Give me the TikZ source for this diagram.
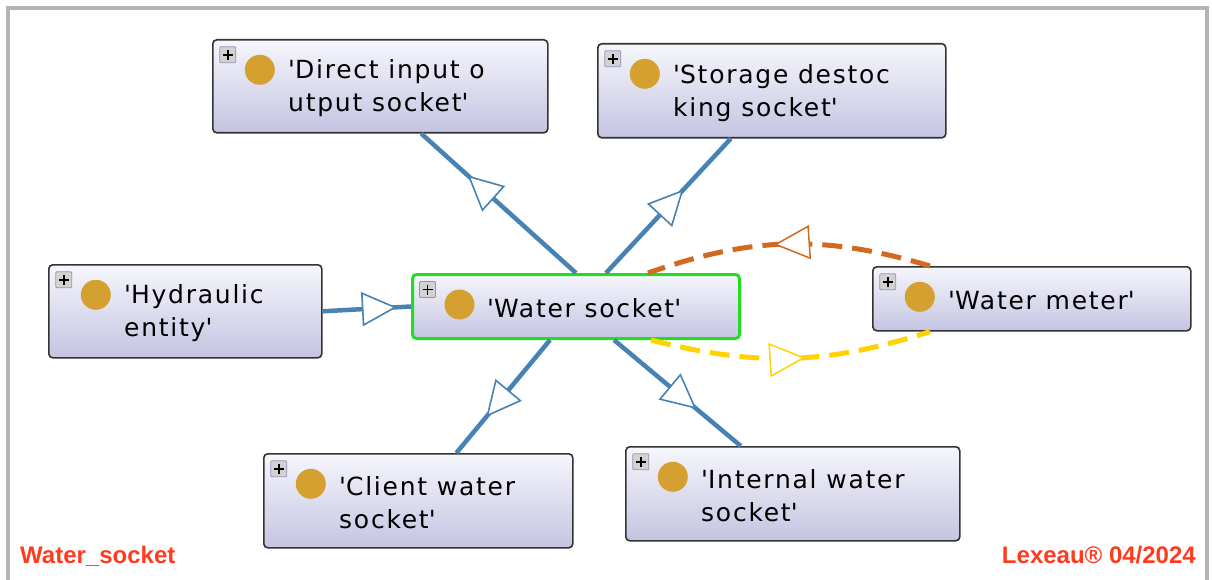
\documentclass[tikz,border=0pt]{standalone}
\usepackage{fontspec}
\setsansfont{DejaVu Sans}
\newfontfamily\clsfont[LetterSpace=7]{DejaVu Sans}
\newfontfamily\tagfont{Liberation Sans}
\usetikzlibrary{arrows.meta, calc, decorations.markings}
\definecolor{boxtop}{HTML}{F6F6FC}
\definecolor{boxbot}{HTML}{C4C4E2}
\definecolor{boxline}{HTML}{333333}
\definecolor{selgreen}{HTML}{22DD22}
\definecolor{dotgold}{HTML}{D4A030}
\definecolor{inhblue}{HTML}{4682B4}
\definecolor{propbrown}{HTML}{D2691E}
\definecolor{propyellow}{HTML}{FFD200}
\definecolor{tagred}{HTML}{FF3B1F}
\definecolor{framegray}{HTML}{B4B4B4}
\newcommand{\sqt}{\textquotesingle}
\tikzset{
  C/.style={draw=boxline, line width=1.6pt, rounded corners=4pt, anchor=north west,
    top color=boxtop, bottom color=boxbot, inner sep=0pt,
    path picture={
      \coordinate (pp) at (path picture bounding box.north west);
      \fill[dotgold] ($(pp)+(47,30)$) circle (15pt);
      \draw[fill=gray!35, draw=blue!20!gray!70, line width=0.8pt, rounded corners=1pt]
        ($(pp)+(7,7)$) rectangle ($(pp)+(23,23)$);
      \draw[black, line width=1.6pt] ($(pp)+(10,15)$) -- ($(pp)+(20,15)$)
        ($(pp)+(15,10)$) -- ($(pp)+(15,20)$);
    }},
  T/.style={anchor=west, xshift=76pt, yshift=-2pt, align=left, inner sep=0pt, text=black,
    font=\clsfont\fontsize{25}{33}\selectfont},
  inh/.style={draw=inhblue, line width=4.5pt, postaction={decorate},
    decoration={markings, mark=at position #1 with
      {\arrow{Triangle[length=35pt, width=34pt, fill=white, line width=1.6pt]}}}},
  prop/.style={line width=5pt, dash pattern=on 20pt off 10pt, postaction={decorate},
    decoration={markings, mark=at position #1 with
      {\arrow{Triangle[length=36pt, width=34pt, fill=white, line width=1.5pt]}}}},
  tag/.style={font=\tagfont\bfseries\fontsize{24}{27}\selectfont, text=tagred, inner sep=0pt},
}
\begin{document}
\begin{tikzpicture}[x=1pt, y=-1pt]
\useasboundingbox (0,0) rectangle (1212,580);

% frame
\draw[framegray, line width=4pt] (8,590) -- (8,8) -- (1207,8) -- (1207,590);

% ═══════════════════════════════════════════════
% classes
% ═══════════════════════════════════════════════
\node[C, minimum width=335pt, minimum height=93pt,
  label={[T, name=direct-t]west:{\sqt Direct input o\\utput socket\sqt}}]
  (direct) at (212,39) {};
\node[C, minimum width=348pt, minimum height=94pt,
  label={[T, name=storage-t]west:{\sqt Storage destoc\\king socket\sqt}}]
  (storage) at (597,43) {};
\node[C, minimum width=273pt, minimum height=93pt,
  label={[T, name=hyd-t]west:{\sqt Hydraulic\\entity\sqt}}]
  (hyd) at (48,264) {};
\node[C, draw=selgreen, line width=3pt, minimum width=327pt, minimum height=64pt,
  label={[T, name=ws-t]west:{\sqt Water socket\sqt}}]
  (ws) at (411,273) {};
\node[C, minimum width=318pt, minimum height=64pt,
  label={[T, name=wm-t]west:{\sqt Water meter\sqt}}]
  (wm) at (872,266) {};
\node[C, minimum width=309pt, minimum height=94pt,
  label={[T, name=client-t]west:{\sqt Client water\\socket\sqt}}]
  (client) at (263,453) {};
\node[C, minimum width=334pt, minimum height=94pt,
  label={[T, name=internal-t]west:{\sqt Internal water\\socket\sqt}}]
  (internal) at (625,446) {};

% ═══════════════════════════════════════════════
% subclass links
% ═══════════════════════════════════════════════
\draw[inh=0.70] (ws.north) -- ([xshift=41pt]direct.south);
\draw[inh=0.62] ([xshift=30pt]ws.north) -- ([xshift=-41pt]storage.south);
\draw[inh=0.84] (hyd.east) -- (ws.west);
\draw[inh=0.68] ([xshift=-26pt]ws.south) -- ([xshift=38pt]client.north);
\draw[inh=0.65] ([xshift=38pt]ws.south) -- ([xshift=-52pt]internal.north);

% object properties
\draw[prop=0.55, propbrown] ([xshift=58pt]wm.north west) to[bend right=18] ([xshift=72pt]ws.north);
\draw[prop=0.55, propyellow] ([xshift=75pt]ws.south) to[bend right=16] ([xshift=58pt]wm.south west);

% footer
\node[tag, anchor=base west] (title) at (20,563) {Water\_socket};
\node[tag, anchor=base east] (credit) at (1196,563) {Lexeau® 04/2024};

\end{tikzpicture}
\end{document}
